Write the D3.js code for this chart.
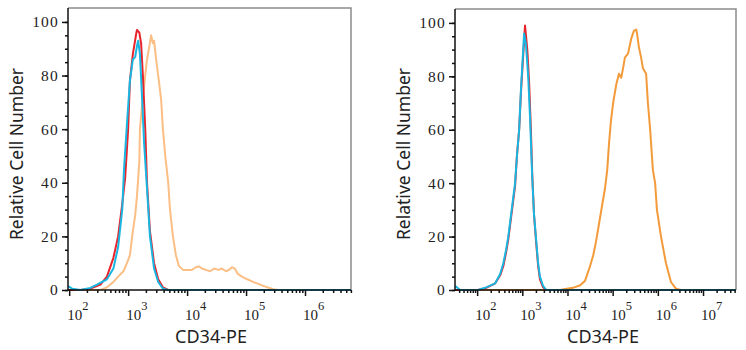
<!DOCTYPE html>
<html lang="en">
<head>
    <meta charset="UTF-8">
    <title>CD34-PE histograms</title>
    <script src="https://d3js.org/d3.v7.min.js"></script>
    <style>
        body { margin: 0; background: #fff; }
        svg { display: block; }
        .tick-label { font-family: "Liberation Serif", "DejaVu Serif", serif; fill: #222; }
        .axis-title { font-family: "Noto Sans", "Open Sans", sans-serif; fill: #222; }
    </style>
</head>
<body>
    <div id="chart"></div>
    <script>
        // values: [log10 of CD34-PE intensity, relative cell number]
        const yTicks = [0, 20, 40, 60, 80, 100];
        const yLabel = "Relative Cell Number";
        const xLabel = "CD34-PE";

        const leftDecades = [2, 3, 4, 5, 6];
        const leftRange = [1.98, 6.78];
        const leftRed = [
            [1.98, 0], [2.19, 0], [2.36, 0.5], [2.53, 2], [2.64, 5], [2.75, 12], [2.83, 20],
            [2.90, 32], [2.95, 42], [3.00, 60], [3.03, 78], [3.08, 88], [3.14, 96], [3.15, 97],
            [3.19, 96], [3.22, 92], [3.25, 80], [3.29, 60], [3.32, 40], [3.37, 22], [3.44, 10],
            [3.51, 4], [3.59, 1], [3.68, 0], [6.78, 0]
        ];
        const leftCyan = [
            [1.98, 1.5], [2.05, 0.5], [2.19, 0], [2.36, 0.8], [2.47, 2], [2.64, 4], [2.75, 8],
            [2.83, 16], [2.90, 30], [2.93, 45], [2.98, 62], [3.03, 78], [3.08, 86], [3.12, 87],
            [3.15, 91], [3.17, 93], [3.20, 88], [3.24, 70], [3.27, 55], [3.32, 38], [3.37, 20],
            [3.44, 8], [3.51, 3], [3.59, 0.5], [3.68, 0], [6.78, 0]
        ];
        const leftOrange = [
            [1.98, 0], [2.53, 0], [2.64, 1], [2.75, 3], [2.83, 5], [2.92, 7], [2.98, 10],
            [3.03, 13], [3.08, 22], [3.12, 28], [3.15, 35], [3.19, 48], [3.20, 60], [3.24, 70],
            [3.29, 80], [3.32, 86], [3.36, 91], [3.39, 95], [3.42, 92], [3.44, 93], [3.47, 87],
            [3.51, 80], [3.56, 71], [3.59, 60], [3.63, 50], [3.68, 40], [3.71, 30], [3.76, 20],
            [3.81, 13], [3.86, 9], [3.93, 7.5], [4.02, 7.5], [4.08, 7.5], [4.15, 8.5], [4.20, 8.8],
            [4.25, 8], [4.32, 7.5], [4.39, 7], [4.46, 8], [4.53, 7.5], [4.59, 8], [4.66, 7],
            [4.71, 7.5], [4.76, 8.5], [4.81, 8], [4.86, 6], [4.93, 5], [5.02, 4], [5.12, 3],
            [5.24, 2], [5.36, 1], [5.46, 0.3], [5.54, 0], [6.78, 0]
        ];

        const rightDecades = [2, 3, 4, 5, 6, 7];
        const rightRange = [1.51, 7.73];
        const rightRed = [
            [1.51, 0], [2.02, 0], [2.20, 0.8], [2.40, 2.5], [2.51, 5.5], [2.58, 9], [2.64, 14],
            [2.69, 19], [2.75, 27], [2.84, 39], [2.88, 50], [2.93, 60], [2.97, 74], [3.02, 88],
            [3.06, 99], [3.11, 90], [3.15, 78], [3.19, 60], [3.22, 43], [3.26, 28], [3.31, 17],
            [3.35, 9], [3.39, 4], [3.46, 1], [3.53, 0], [7.73, 0]
        ];
        const rightCyan = [
            [1.51, 1.2], [1.54, 1.2], [1.62, 0], [2.02, 0], [2.20, 1], [2.40, 2.5], [2.51, 6],
            [2.58, 10], [2.64, 15], [2.69, 20], [2.75, 28], [2.84, 40], [2.88, 50], [2.93, 60],
            [2.97, 75], [3.02, 90], [3.04, 96], [3.08, 92], [3.13, 80], [3.17, 65], [3.22, 42],
            [3.26, 28], [3.31, 18], [3.35, 10], [3.39, 5], [3.46, 1.5], [3.53, 0], [7.73, 0]
        ];
        const rightOrange = [
            [1.51, 0], [3.84, 0], [3.95, 0.4], [4.12, 0.8], [4.28, 1.8], [4.39, 3.5], [4.50, 9],
            [4.57, 13], [4.63, 18], [4.74, 29], [4.83, 38], [4.88, 45], [4.92, 55], [4.96, 63],
            [5.01, 70], [5.08, 77], [5.14, 81], [5.19, 79.5], [5.23, 83], [5.27, 87], [5.34, 88.5],
            [5.41, 94], [5.47, 97], [5.52, 97.5], [5.54, 96], [5.58, 91], [5.63, 87], [5.67, 83],
            [5.74, 81], [5.78, 70], [5.83, 60], [5.89, 45], [5.94, 40], [5.98, 30], [6.07, 20],
            [6.18, 10], [6.29, 3], [6.40, 0.5], [6.51, 0], [7.73, 0]
        ];

        const w = 746;
        const h = 350;

        const panels = [
            {
                left: 68, right: 351, top: 8, bottom: 290, titleX: 211, yTitleX: 23,
                range: leftRange, decades: leftDecades,
                series: [
                    { data: leftOrange, color: "#fbbe84" },
                    { data: leftRed, color: "#e8232b" },
                    { data: leftCyan, color: "#19b6e2" }
                ]
            },
            {
                left: 455, right: 736, top: 9, bottom: 290, titleX: 603, yTitleX: 410,
                range: rightRange, decades: rightDecades,
                series: [
                    { data: rightOrange, color: "#f39a3a" },
                    { data: rightRed, color: "#e8232b" },
                    { data: rightCyan, color: "#19b6e2" }
                ]
            }
        ];

        const svg = d3.select('#chart')
            .append('svg')
            .attr('width', w)
            .attr('height', h);

        panels.forEach((p, pi) => {
            const xScale = d3.scaleLog()
                .domain([Math.pow(10, p.range[0]), Math.pow(10, p.range[1])])
                .range([p.left, p.right]);
            const yScale = d3.scaleLinear()
                .domain([0, 105.2])
                .range([p.bottom, p.top]);

            const g = svg.append('g');

            // grey frame on top and right
            g.append('path')
                .attr('d', `M${p.left},${p.top}H${p.right}V${p.bottom}`)
                .attr('fill', 'none')
                .attr('stroke', '#8c8c8c')
                .attr('stroke-width', 1.5);

            // curves
            g.append('clipPath')
                .attr('id', 'clip' + pi)
                .append('rect')
                .attr('x', p.left)
                .attr('y', p.top)
                .attr('width', p.right - p.left)
                .attr('height', p.bottom - p.top + 2);

            const line = d3.line()
                .x(d => xScale(Math.pow(10, d[0])))
                .y(d => yScale(d[1]));

            p.series.forEach(s => {
                g.append('path')
                    .datum(s.data)
                    .attr('clip-path', `url(#clip${pi})`)
                    .attr('d', line)
                    .attr('fill', 'none')
                    .attr('stroke', s.color)
                    .attr('stroke-width', 2)
                    .attr('stroke-linejoin', 'round');
            });

            // x axis (log, major + minor ticks)
            const majors = p.decades.map(e => Math.pow(10, e));
            const minors = [];
            for (let e = Math.floor(p.range[0]); e < Math.ceil(p.range[1]); e++) {
                for (let k = 2; k <= 9; k++) {
                    const v = k * Math.pow(10, e);
                    if (Math.log10(v) > p.range[0] && Math.log10(v) < p.range[1]) minors.push(v);
                }
            }

            const xAxis = g.append('g')
                .attr('transform', `translate(0,${p.bottom})`)
                .call(d3.axisBottom(xScale).tickValues(minors).tickSize(3).tickFormat(''));
            xAxis.append('g')
                .call(d3.axisBottom(xScale).tickValues(majors).tickSize(6).tickFormat(''));
            xAxis.selectAll('.domain').remove();
            xAxis.selectAll('line').attr('stroke', '#111').attr('stroke-width', 1.5);
            g.append('line')
                .attr('x1', p.left).attr('x2', p.right)
                .attr('y1', p.bottom).attr('y2', p.bottom)
                .attr('stroke', '#111')
                .attr('stroke-width', 1.5);

            const xt = g.selectAll('.xlab')
                .data(p.decades)
                .enter()
                .append('text')
                .attr('class', 'tick-label')
                .attr('x', d => xScale(Math.pow(10, d)) - 2)
                .attr('y', 320)
                .style('font-size', '15px');
            xt.append('tspan').text('10');
            xt.append('tspan')
                .attr('dy', -10)
                .style('font-size', '12.5px')
                .text(d => d);

            // y axis
            const yMinor = d3.range(0, 105, 5);
            const yAxis = g.append('g')
                .attr('transform', `translate(${p.left},0)`)
                .call(d3.axisLeft(yScale).tickValues(yMinor).tickSize(3).tickFormat(''));
            yAxis.append('g')
                .call(d3.axisLeft(yScale).tickValues(yTicks).tickSize(6).tickPadding(3).tickFormat(d3.format('d')));
            yAxis.selectAll('.domain').remove();
            yAxis.selectAll('line').attr('stroke', '#111').attr('stroke-width', 1.5);
            yAxis.selectAll('text')
                .attr('class', 'tick-label')
                .attr('font-family', null)
                .attr('font-size', null)
                .style('font-size', '15.5px')
                .style('letter-spacing', '1.2px');
            g.append('line')
                .attr('x1', p.left).attr('x2', p.left)
                .attr('y1', p.top).attr('y2', p.bottom + 1)
                .attr('stroke', '#111')
                .attr('stroke-width', 1.5);

            // titles
            g.append('text')
                .attr('class', 'axis-title')
                .attr('x', p.titleX)
                .attr('y', 343)
                .attr('text-anchor', 'middle')
                .style('font-size', '18px')
                .text(xLabel);

            g.append('text')
                .attr('class', 'axis-title')
                .attr('transform', `translate(${p.yTitleX},154) rotate(-90)`)
                .attr('text-anchor', 'middle')
                .style('font-size', '17.5px')
                .text(yLabel);
        });
    </script>
</body>
</html>
